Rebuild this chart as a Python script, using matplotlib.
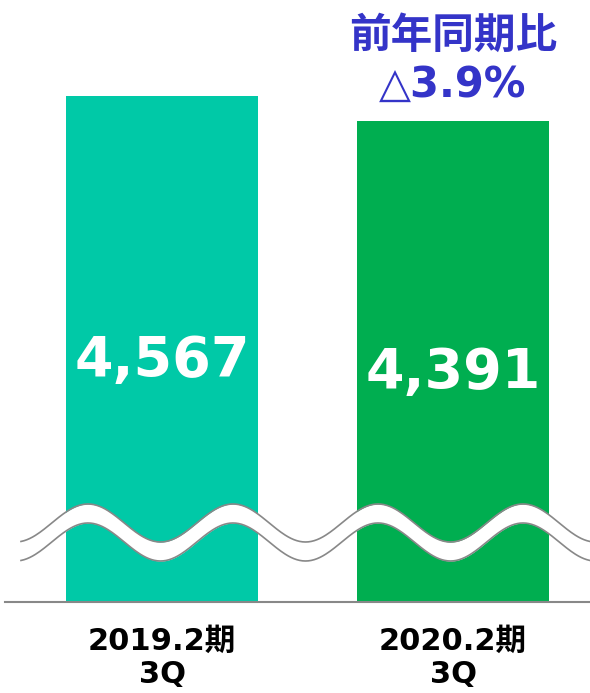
import matplotlib.pyplot as plt
import numpy as np

plt.rcParams['font.family'] = ['DejaVu Sans', 'Noto Sans CJK JP']

periods = ['2019.2期', '2020.2期']
quarter = '3Q'
values = [4567, 4391]
value_labels = ['4,567', '4,391']
colors = ['#00C9A7', '#00AE50']
note_title = '前年同期比'
note_value = '△3.9%'

fig = plt.figure(figsize=(5.9, 6.93), dpi=100)
# axis is cut: bars start at 1000
ax = fig.add_axes([0, 91 / 693, 1, 602 / 693])
base = 1000
scale = 506 / (values[0] - base)  # px per unit
x = np.arange(len(values))
ax.bar(x, [v - base for v in values], bottom=base, width=0.66, color=colors, zorder=1)
ax.set_xlim(-162 / 291, (590 - 162) / 291)
ax.set_ylim(base, base + 602 / scale)
ax.axis('off')
ax.axhline(base, xmin=5 / 590, xmax=1, color='#888888', lw=1.5, clip_on=False, zorder=3)

for xi, v, lab in zip(x, values, value_labels):
    ax.text(xi, base + (v - base) * 0.477, lab, ha='center', va='center',
            color='white', fontsize=40, fontweight='bold', zorder=4)

for xi, p in zip(x, periods):
    ax.text(xi, base - 48 / scale, p, ha='center', va='baseline', fontsize=22,
            fontweight='bold', clip_on=False)
    ax.text(xi, base - 81 / scale, quarter, ha='center', va='baseline', fontsize=22,
            fontweight='bold', clip_on=False)

ax.text(1, base + (602 - 48) / scale, note_title, ha='center', va='baseline',
        fontsize=30, fontweight='bold', color='#3434C8')
ax.text(1, base + (602 - 97) / scale, note_value, ha='center', va='baseline',
        fontsize=30, fontweight='bold', color='#3434C8')

# wavy break mark, in pixel space
ov = fig.add_axes([0, 0, 1, 1])
ov.set_xlim(0, 590)
ov.set_ylim(693, 0)
ov.axis('off')
xs = np.linspace(21, 600, 400)
top = 523 - 19 * np.cos(2 * np.pi * (xs - 88) / 145)
bot = top + 19
ov.fill_between(xs, top, bot, color='white', lw=0, zorder=2)
ov.plot(xs, top, color='#888888', lw=1.2, zorder=3)
ov.plot(xs, bot, color='#888888', lw=1.2, zorder=3)

fig.savefig('out.png', dpi=100)
